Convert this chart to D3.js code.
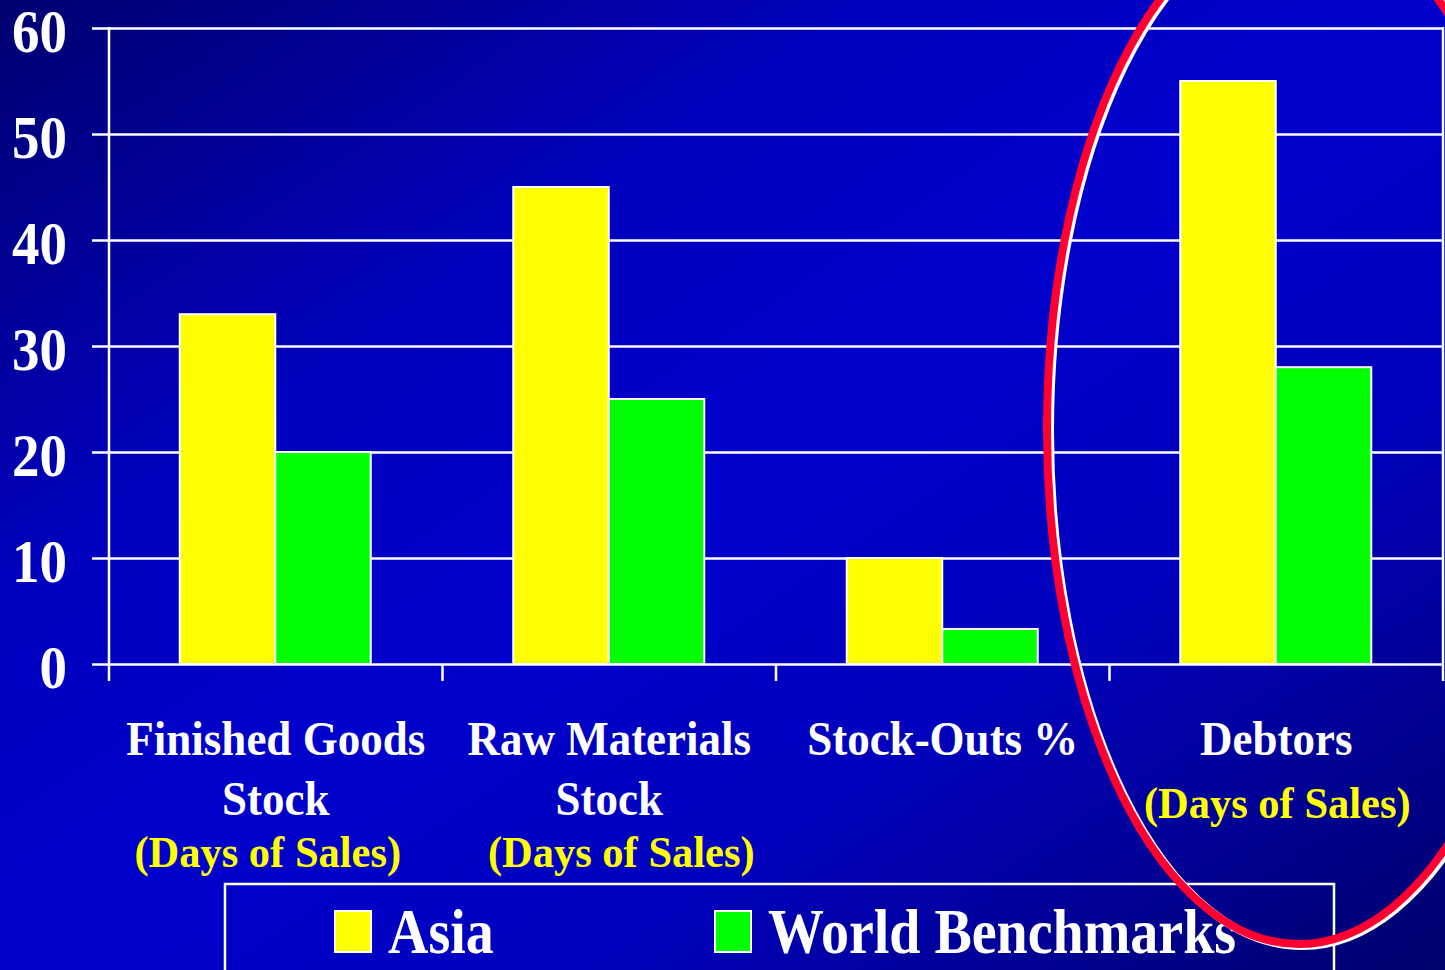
<!DOCTYPE html>
<html>
<head>
<meta charset="utf-8">
<script src="https://cdn.jsdelivr.net/npm/d3@7"></script>
<style>
  html, body { margin: 0; padding: 0; background: #00008a; overflow: hidden; }
  svg { display: block; }
  text { font-family: "Liberation Serif", "Times New Roman", serif; font-weight: bold; }
</style>
</head>
<body>
<script>
// Inventory and debtor benchmarks: Asia vs world
const categories = ["Finished Goods", "Raw Materials", "Stock-Outs", "Debtors"];
const categoryLines = [["Finished Goods", "Stock"], ["Raw Materials", "Stock"], ["Stock-Outs %"], ["Debtors"]];
const categoryUnits = ["(Days of Sales)", "(Days of Sales)", "", "(Days of Sales)"];
const seriesNames = ["Asia", "World Benchmarks"];
const asiaValues = [33, 45, 10, 55];
const worldValues = [20, 25, 3.3, 28];
const yTicks = [0, 10, 20, 30, 40, 50, 60];
const seriesColors = ["#ffff00", "#00ff00"];

const W = 1445, H = 970;
const svg = d3.select("body").append("svg").attr("width", W).attr("height", H);

// diagonal slide background
const defs = svg.append("defs");
const grad = defs.append("linearGradient").attr("id", "bg")
  .attr("x1", 0).attr("y1", 0).attr("x2", 1).attr("y2", 1);
[[0, "#000070"], [0.3, "#0000bc"], [0.5, "#0000cc"], [0.7, "#0000bc"], [1, "#00006c"]]
  .forEach(([o, c]) => grad.append("stop").attr("offset", o).attr("stop-color", c));
svg.append("rect").attr("width", W).attr("height", H).attr("fill", "url(#bg)");

const plotLeft = 109, plotRight = 1443;
const y = d3.scaleLinear().domain([0, 60]).range([664, 28]);
const x0 = d3.scaleBand().domain(categories).range([plotLeft, plotRight]);
const bw = x0.bandwidth();
const x1 = d3.scaleBand().domain(seriesNames).range([bw / 2 - 96, bw / 2 + 95]);

function stretchedText(g, x, yb, txt, size, v, fill, anchor) {
  return g.append("text")
    .attr("transform", `translate(${x},${yb}) scale(1,${v})`)
    .attr("text-anchor", anchor)
    .attr("font-size", size)
    .attr("fill", fill)
    .text(txt);
}

// gridlines + value labels
const yAxis = d3.axisLeft(y)
  .tickValues(yTicks)
  .tickSize(plotRight - 92)
  .tickPadding(25)
  .tickFormat(d3.format("d"));
const gy = svg.append("g").attr("transform", `translate(${plotRight},0)`).call(yAxis);
gy.select(".domain").remove();
gy.selectAll(".tick line").attr("stroke", "#ffffff").attr("stroke-width", 2.5);
gy.selectAll(".tick text")
  .attr("dy", null).attr("y", 0)
  .attr("fill", "#ffffff")
  .attr("font-size", 55)
  .attr("font-family", "Liberation Serif, Times New Roman, serif")
  .attr("font-weight", "bold")
  .attr("transform", function () {
    const tx = d3.select(this).attr("x");
    d3.select(this).attr("x", 0);
    return `translate(${tx},23) scale(1,1.12)`;
  });

// frame verticals and category ticks
const frame = svg.append("g").attr("stroke", "#ffffff").attr("stroke-width", 2.5);
[plotLeft, plotRight].forEach(xv => frame.append("line")
  .attr("x1", xv).attr("x2", xv).attr("y1", y(60) - 1).attr("y2", y(0) + 17));
categories.slice(1).forEach(c => frame.append("line")
  .attr("x1", x0(c)).attr("x2", x0(c)).attr("y1", y(0)).attr("y2", y(0) + 17));

// bars
const rows = categories.map((c, i) => ({ cat: c, vals: [asiaValues[i], worldValues[i]] }));
const groups = svg.append("g").selectAll("g").data(rows).join("g")
  .attr("transform", d => `translate(${x0(d.cat)},0)`);
groups.selectAll("rect")
  .data(d => d.vals.map((v, k) => ({ name: seriesNames[k], v, k })))
  .join("rect")
  .attr("x", d => x1(d.name))
  .attr("width", x1.bandwidth())
  .attr("y", d => y(d.v))
  .attr("height", d => y(0) - y(d.v))
  .attr("fill", d => seriesColors[d.k])
  .attr("stroke", "#ffffff")
  .attr("stroke-width", 2);

// category labels (the unit lines sit slightly off-centre in the first two columns)
const unitShift = [-8, 12, 0, 1];
const labels = svg.append("g");
categories.forEach((c, i) => {
  const cx = x0(c) + bw / 2;
  const lines = categoryLines[i];
  lines.forEach((ln, j) => stretchedText(labels, cx, 755 + j * 60, ln, 45, 1.1, "#ffffff", "middle"));
  if (categoryUnits[i]) {
    const yb = lines.length === 1 ? 818 : 867;
    stretchedText(labels, cx + unitShift[i], yb, categoryUnits[i], 42.5, 1.04, "#ffff00", "middle");
  }
});

// legend
const legend = svg.append("g");
legend.append("rect").attr("x", 225).attr("y", 884).attr("width", 1109).attr("height", 140)
  .attr("fill", "none").attr("stroke", "#ffffff").attr("stroke-width", 2.5);
const legendX = [335, 715];
seriesNames.forEach((name, k) => {
  legend.append("rect").attr("x", legendX[k]).attr("y", 911).attr("width", 36).attr("height", 41)
    .attr("fill", seriesColors[k]).attr("stroke", "#ffffff").attr("stroke-width", 2);
  stretchedText(legend, legendX[k] + 53, 953, name, 56, 1.14, "#ffffff", "start");
});

// highlight ring around the debtors group
const ring = svg.append("g");
ring.append("ellipse").attr("cx", 1302).attr("cy", 431).attr("rx", 252).attr("ry", 515)
  .attr("fill", "none").attr("stroke", "#ffffff").attr("stroke-width", 8);
ring.append("ellipse").attr("cx", 1299).attr("cy", 429).attr("rx", 252).attr("ry", 515)
  .attr("fill", "none").attr("stroke", "#ff0030").attr("stroke-width", 8);
</script>
</body>
</html>
